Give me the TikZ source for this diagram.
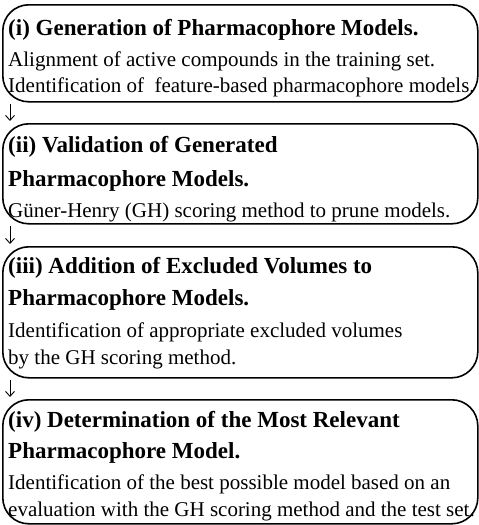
\documentclass[tikz,border=0pt]{standalone}
\usepackage{fontspec}
\setmainfont{Liberation Serif}
\tikzset{stepbox/.style = {draw, line width = 1.6, rounded corners = 26, inner sep = 0, anchor = north west, minimum width = 475}}
\tikzset{head/.style = {anchor = base west, inner sep = 0, font = \fontsize{23}{27}\selectfont\bfseries}}
\tikzset{body/.style = {anchor = base west, inner sep = 0, font = \fontsize{21}{25}\selectfont}}
\tikzset{down/.style = {-{Straight Barb[length = 5, width = 9]}, line width = 0.9, shorten < = 1.5, shorten > = 2}}
\usetikzlibrary{arrows.meta}

\begin{document}
\begin{tikzpicture}[x = 1pt, y = -1pt]
    \useasboundingbox (0, 0) rectangle (479, 525);
    % (i)
    \node [stepbox, minimum height = 97] (s1) at (2, 4) {};
    \node [head] (h1) at (8, 35) {(i) Generation of Pharmacophore Models.};
    \node [body] (b1a) at (8, 66) {Alignment of active compounds in the training set.};
    \node [body] (b1b) at (8, 92) {Identification of \ feature-based pharmacophore models.};
    % (ii)
    \node [stepbox, minimum height = 100] (s2) at (2, 123) {};
    \node [head] (h2a) at (8, 152) {(ii) Validation of Generated};
    \node [head] (h2b) at (8, 186) {Pharmacophore Models.};
    \node [body] (b2) at (8, 217) {Güner-Henry (GH) scoring method to prune models.};
    % (iii)
    \node [stepbox, minimum height = 131] (s3) at (2, 246) {};
    \node [head] (h3a) at (8, 273) {(iii) Addition of Excluded Volumes to};
    \node [head] (h3b) at (8, 305) {Pharmacophore Models.};
    \node [body] (b3a) at (8, 337) {Identification of appropriate excluded volumes};
    \node [body] (b3b) at (8, 364) {by the GH scoring method.};
    % (iv)
    \node [stepbox, minimum height = 124] (s4) at (2, 399) {};
    \node [head] (h4a) at (8, 427) {(iv) Determination of the Most Relevant};
    \node [head] (h4b) at (8, 458) {Pharmacophore Model.};
    \node [body] (b4a) at (8, 489) {Identification of the best possible model based on an};
    \node [body] (b4b) at (8, 516) {evaluation with the GH scoring method and the test set.};
    % arrows
    \draw [down] ([xshift = 8] s1.south west) -- ([xshift = 8] s2.north west);
    \draw [down] ([xshift = 8] s2.south west) -- ([xshift = 8] s3.north west);
    \draw [down] ([xshift = 8] s3.south west) -- ([xshift = 8] s4.north west);
\end{tikzpicture}
\end{document}
